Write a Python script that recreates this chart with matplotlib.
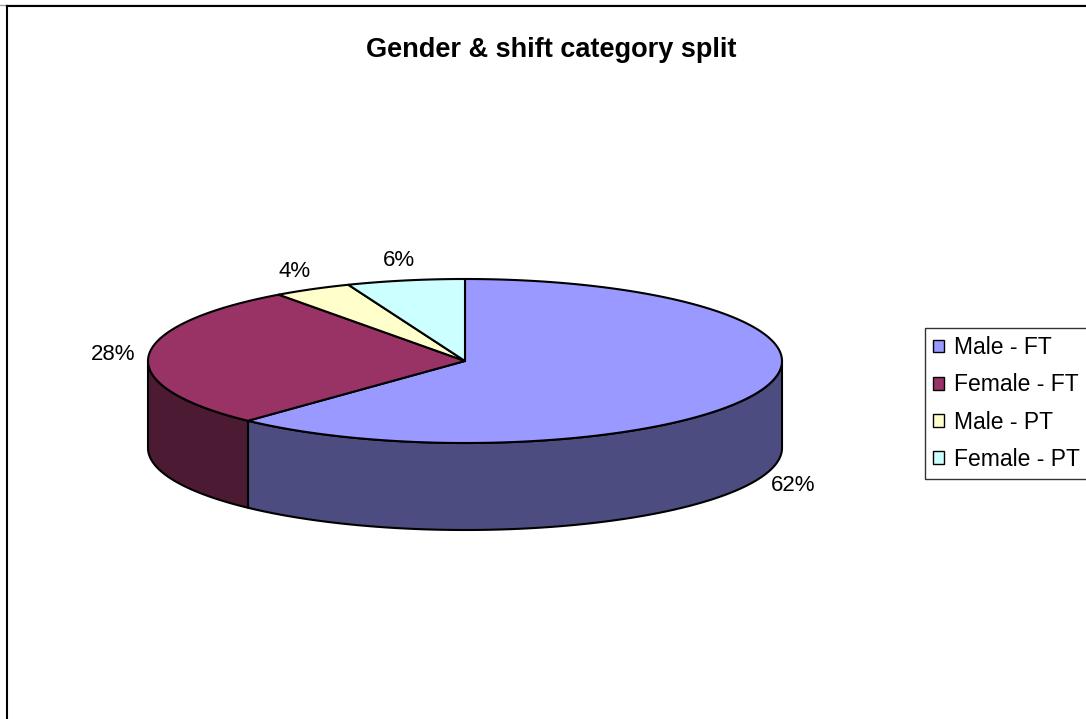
import numpy as np
import matplotlib
matplotlib.use("Agg")
import matplotlib.pyplot as plt
from matplotlib.patches import Polygon, Patch
from matplotlib.lines import Line2D

plt.rcParams['font.family'] = ['Liberation Sans', 'DejaVu Sans']

# ---- data ----
categories = ["Male - FT", "Female - FT", "Male - PT", "Female - PT"]
shares = [62, 28, 4, 6]
title = "Gender & shift category split"

# ---- style ----
top_colors = ["#9999FF", "#993366", "#FFFFCC", "#CCFFFF"]
side_colors = ["#4C4C80", "#4C1A33", "#80806A", "#6A8080"]

W, H = 1086, 719
fig = plt.figure(figsize=(W / 100, H / 100), dpi=100)
ax = fig.add_axes([0, 0, 1, 1])
ax.set_xlim(0, W)
ax.set_ylim(H, 0)
ax.axis('off')

# pie geometry (pixel layout)
cx, cy = 465, 361
rx, ry = 317, 82
depth = 87


def arc(a0, a1, n=200):
    t = np.radians(np.linspace(a0, a1, n))
    return cx + rx * np.cos(t), cy - ry * np.sin(t)


total = float(sum(shares))
fracs = [s / total for s in shares]
starts = []
a = 90.0
for f in fracs:
    starts.append((a, a - f * 360.0))
    a -= f * 360.0

# sides (front half only: angles where sin <= 0)
for (a0, a1), sc in zip(starts, side_colors):
    lo, hi = min(a0, a1), max(a0, a1)
    for k in (-2, -1, 0, 1):
        f_lo, f_hi = -180 + 360 * k, 360 * k
        s_lo, s_hi = max(lo, f_lo), min(hi, f_hi)
        if s_hi - s_lo > 1e-6:
            x, y = arc(s_lo, s_hi)
            xs = np.concatenate([x, x[::-1]])
            ys = np.concatenate([y, (y + depth)[::-1]])
            ax.add_patch(Polygon(np.column_stack([xs, ys]), closed=True,
                                 facecolor=sc, edgecolor='black', lw=1.5,
                                 joinstyle='round'))

# tops
for (a0, a1), tc in zip(starts, top_colors):
    x, y = arc(a0, a1)
    xs = np.concatenate([[cx], x])
    ys = np.concatenate([[cy], y])
    ax.add_patch(Polygon(np.column_stack([xs, ys]), closed=True,
                         facecolor=tc, edgecolor='black', lw=1.5,
                         joinstyle='round'))

# percentage labels
for (a0, a1), f in zip(starts, fracs):
    m = np.radians((a0 + a1) / 2)
    lx = cx + (rx + 36) * np.cos(m)
    ly = cy - (ry + 20) * np.sin(m)
    if np.sin(m) < 0:
        ly += depth
    ax.text(lx, ly, f"{f * 100:.0f}%", ha='center', va='center',
            fontsize=16, color='black')

# title
fig.text(551 / W, 1 - 50 / H, title, ha='center', va='center',
         fontsize=19.5, fontweight='bold')

# frame lines
fig.add_artist(Line2D([0, 1], [1 - 4.5 / H, 1 - 4.5 / H], color='#A0A0A0', lw=1))
fig.add_artist(Line2D([6.5 / W, 1], [1 - 6 / H, 1 - 6 / H], color='black', lw=1.5))
fig.add_artist(Line2D([6.5 / W, 6.5 / W], [0, 1 - 6 / H], color='black', lw=1.5))

# legend
handles = [Patch(facecolor=c, edgecolor='black', lw=1) for c in top_colors]
leg = fig.legend(handles, categories, loc='upper left',
                 bbox_to_anchor=(925 / W, 1 - 328 / H),
                 fontsize=16.5, frameon=True, fancybox=False, shadow=False,
                 handlelength=0.48, handleheight=0.48, handletextpad=0.42,
                 labelspacing=0.62, borderpad=0.36, borderaxespad=0)
leg.get_frame().set_edgecolor('black')
leg.get_frame().set_linewidth(1)

fig.savefig("out.png", dpi=100, facecolor='white')
